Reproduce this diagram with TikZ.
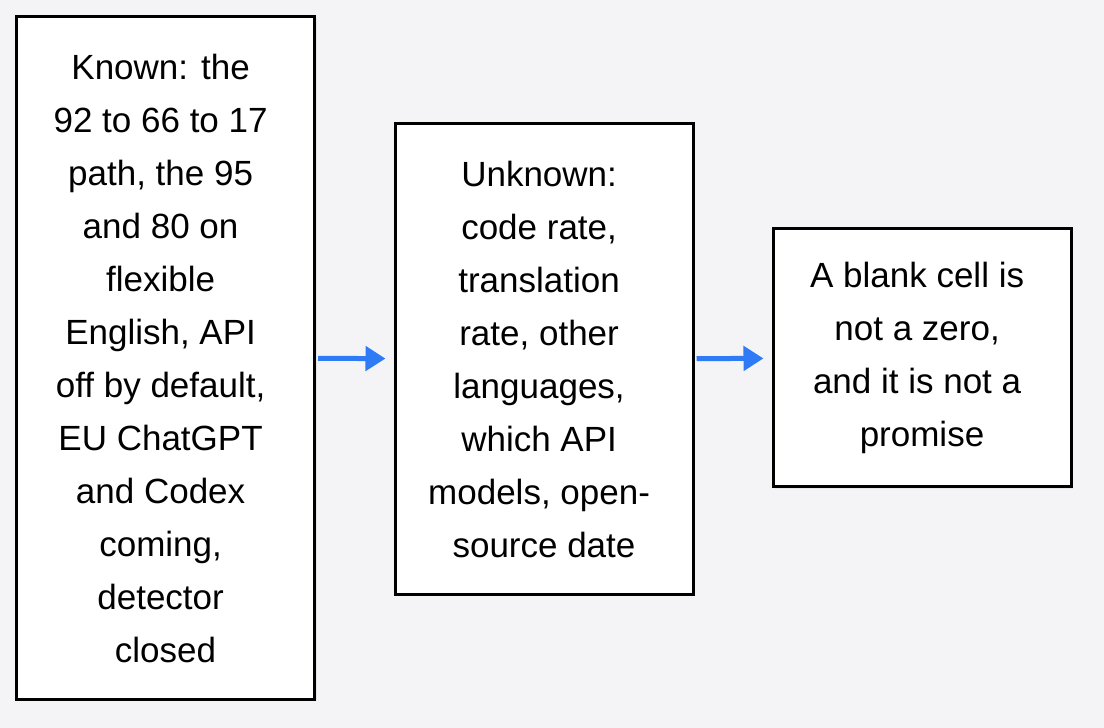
\documentclass[tikz,border=0pt]{standalone}
\usepackage{fontspec}
\setmainfont{Liberation Sans}
\usetikzlibrary{positioning,arrows.meta,shadows}

\definecolor{pagebg}{HTML}{F4F4F6}
\definecolor{flowblue}{HTML}{2F7BF5}
\newcommand{\padsp}{\kern.28em\relax}

\begin{document}
\begin{tikzpicture}[x=1pt,y=1pt,
    box/.style={draw=black, line width=1.5pt, fill=white, rectangle,
        minimum width=149pt, inner sep=0pt, align=center,
        font=\fontsize{17.5}{26.5}\selectfont,
        drop shadow={opacity=0.12, shadow xshift=1pt, shadow yshift=-1pt}},
    flow/.style={-{Triangle[length=10pt,width=12pt]}, line width=2.5pt,
        draw=flowblue, shorten <=1pt, shorten >=4pt}]
    % Page background
    \fill[pagebg] (0,0) rectangle (552,364);
    \useasboundingbox (0,0) rectangle (552,364);

    % Create main nodes
    \node[box, minimum height=341.5pt] (known) at (82.75,185)
        {Known: the\padsp\\ 92 to 66 to 17\padsp\\ path, the 95\padsp\\ and 80 on\padsp\\ flexible\padsp\\ English, API\padsp\\ off by default,\padsp\\ EU ChatGPT\padsp\\ and Codex\padsp\\ coming,\padsp\\ detector\padsp\\ closed};
    \node[box, minimum height=235.5pt] (unknown) at (272,184.5)
        {Unknown:\padsp\\ code rate,\padsp\\ translation\padsp\\ rate, other\padsp\\ languages,\padsp\\ which API\padsp\\ models, open-\padsp\\ source date};
    \node[box, minimum height=129pt] (blank) at (461,185)
        {A blank cell is\padsp\\ not a zero,\padsp\\ and it is not a\padsp\\ promise};

    % Arrows between the boxes
    \draw[flow] (known) -- (unknown);
    \draw[flow] (unknown) -- (blank);
\end{tikzpicture}
\end{document}
